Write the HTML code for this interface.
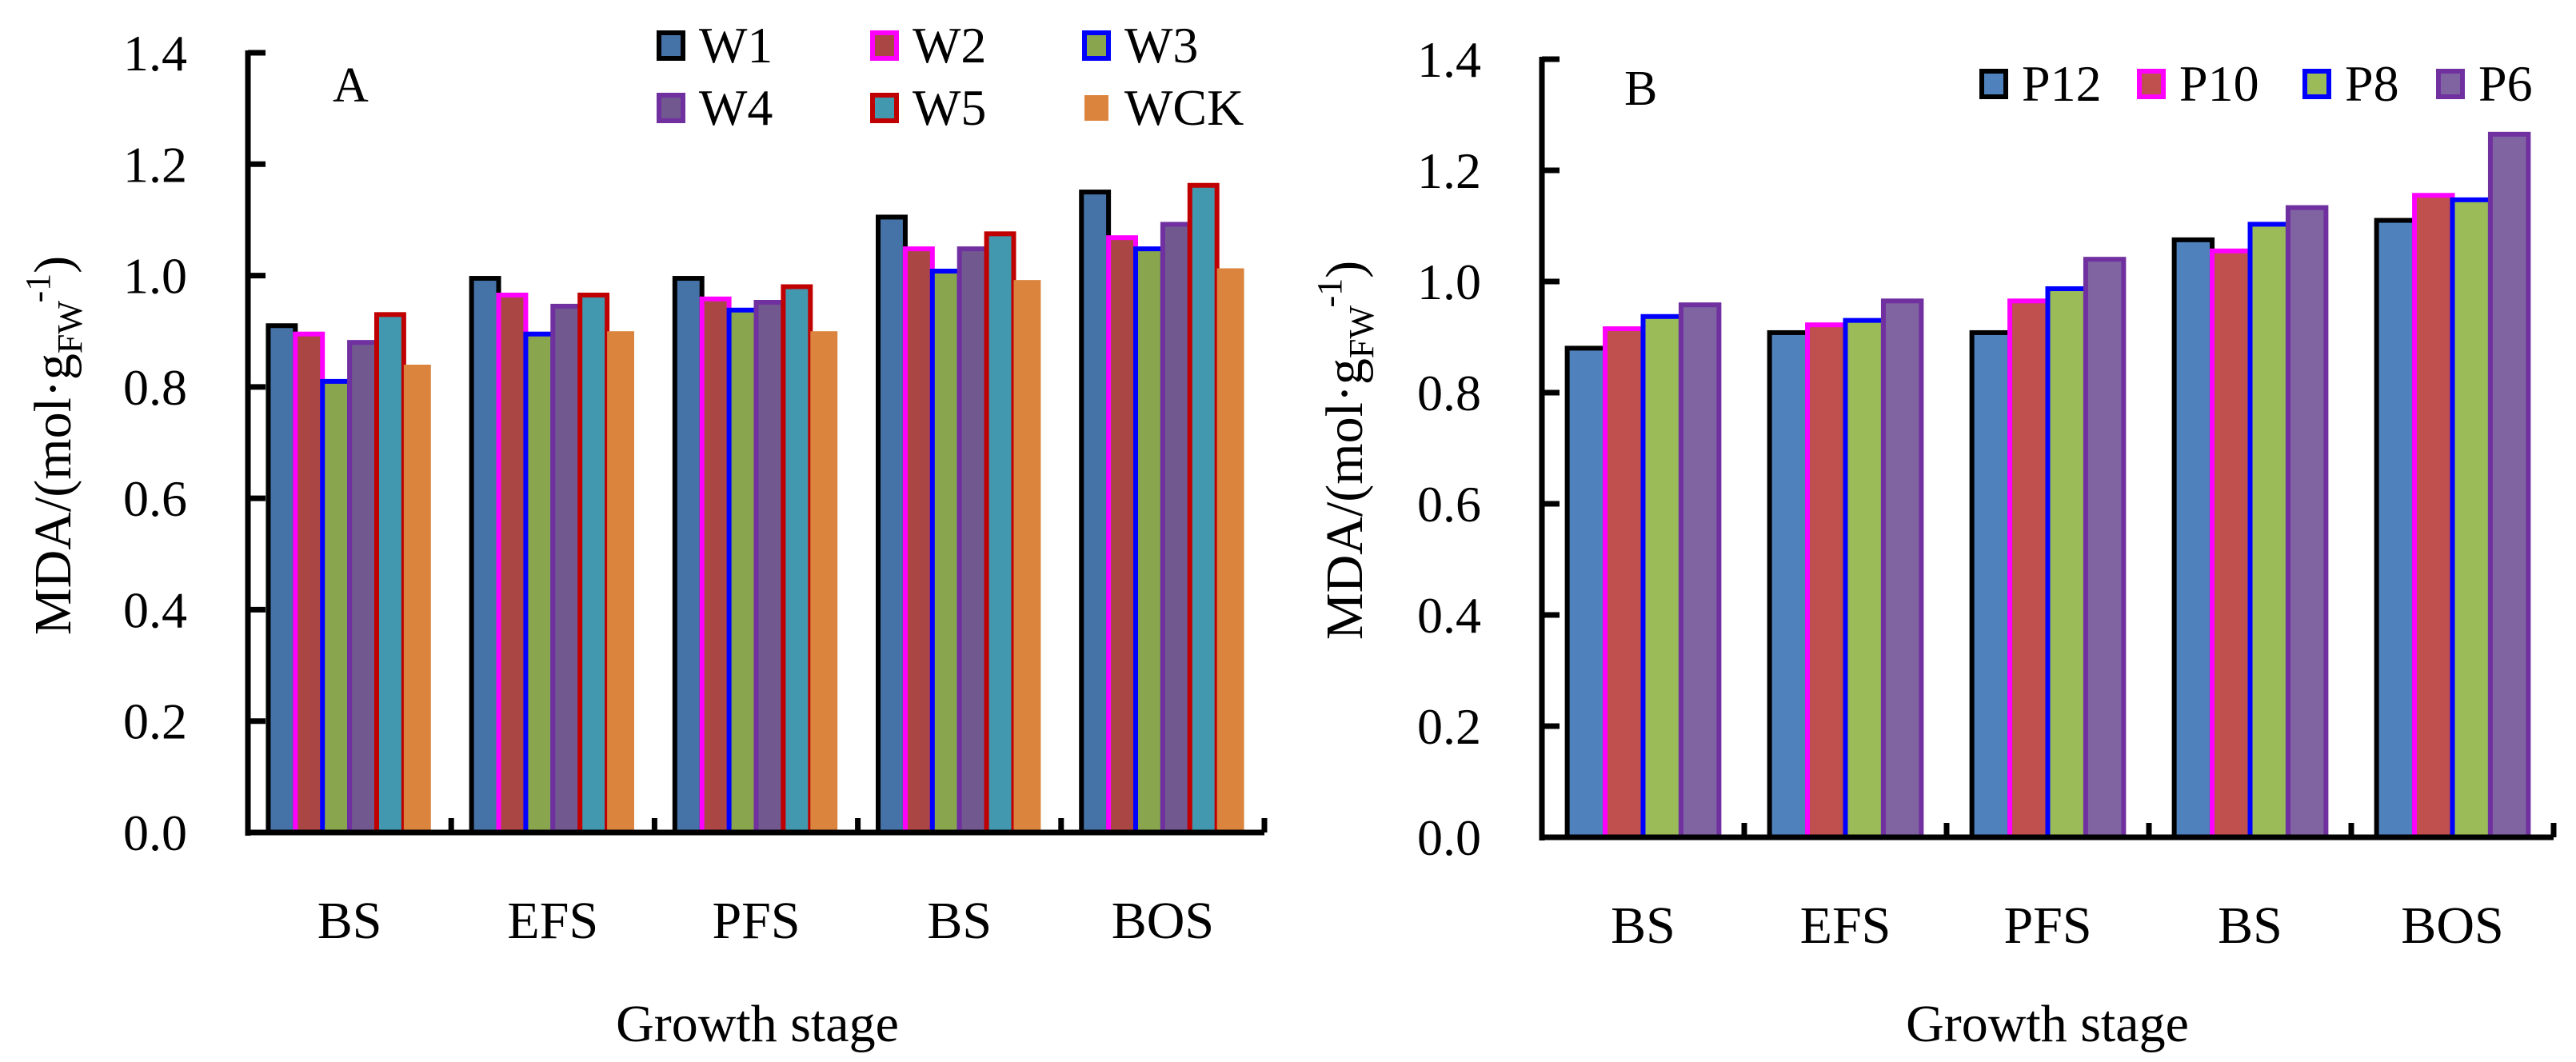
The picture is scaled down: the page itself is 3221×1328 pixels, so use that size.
<!DOCTYPE html>
<html><head><meta charset="utf-8"><style>
html,body{margin:0;padding:0;background:#fff;}
svg{display:block;font-family:"Liberation Serif",serif;}
svg text{font-family:"Liberation Serif",serif;}
</style></head><body>
<svg id="chart" width="3221" height="1328" viewBox="0 0 3221 1328" xmlns="http://www.w3.org/2000/svg" font-family="Liberation Serif, serif"></svg>
<script>
const categories = ["BS","EFS","PFS","BS","BOS"];
const yTicks = ["0.0","0.2","0.4","0.6","0.8","1.0","1.2","1.4"];
const seriesA = ["W1","W2","W3","W4","W5","WCK"];
const w1 = [0.91,0.995,0.995,1.105,1.15];
const w2 = [0.895,0.965,0.958,1.048,1.068];
const w3 = [0.81,0.895,0.938,1.008,1.048];
const w4 = [0.88,0.945,0.952,1.048,1.092];
const w5 = [0.93,0.965,0.98,1.075,1.162];
const wck = [0.84,0.90,0.90,0.992,1.013];
const seriesB = ["P12","P10","P8","P6"];
const p12 = [0.88,0.908,0.908,1.075,1.11];
const p10 = [0.915,0.922,0.965,1.055,1.155];
const p8 = [0.937,0.93,0.987,1.103,1.147];
const p6 = [0.958,0.965,1.04,1.133,1.265];

const NS="http://www.w3.org/2000/svg";
const svg=document.getElementById('chart');
const FF='Liberation Serif, serif';
function mk(tag,attrs,parent){const e=document.createElementNS(NS,tag);for(const k in attrs)e.setAttribute(k,attrs[k]);if(tag==='text')e.setAttribute('font-family',FF);(parent||svg).appendChild(e);return e;}

function panel(cfg){
  const g=mk('g',{});
  
  
  const {x0,x1,y0,yTop,vals,names,fills,strokes,barFrac}=cfg;
  const ymax=1.4;
  const yS=v=>y0-(v/ymax)*(y0-yTop);
  const gw=(x1-x0)/categories.length;
  const n=vals.length, bw=gw*barFrac/n;
  for(let c=0;c<categories.length;c++){
    const gx=x0+gw*c+gw*(1-barFrac)/2;
    for(let s=0;s<n;s++){
      const v=vals[s][c];
      const r=mk('rect',{x:gx+s*bw,y:yS(v),width:bw,height:y0-yS(v),fill:fills[s],stroke:strokes[s]||'none','stroke-width':strokes[s]?6:0},g);
      
      
    }
  }
  const ya=mk('line',{x1:x0,y1:yTop-3,x2:x0,y2:y0+4,stroke:'#000','stroke-width':7},g);
  
  
  const xa=mk('line',{x1:x0-3,y1:y0,x2:x1,y2:y0,stroke:'#000','stroke-width':7},g);
  
  
  yTicks.forEach((t,i)=>{
    const v=parseFloat(t), y=yS(v);
    mk('line',{x1:x0,y1:y,x2:x0+22,y2:y,stroke:'#000','stroke-width':7},g);
    const tx=mk('text',{x:x0-76,y:y+22,'font-size':64,'text-anchor':'end'},g);
    tx.textContent=t;
    
    
  });
  for(let c=1;c<=categories.length;c++){
    const x=x0+gw*c;
    mk('line',{x1:x,y1:y0,x2:x,y2:y0-18,stroke:'#000','stroke-width':7},g);
  }
  categories.forEach((cat,c)=>{
    const tx=mk('text',{x:x0+gw*(c+0.5),y:y0+132,'font-size':66,'text-anchor':'middle'},g);
    tx.textContent=cat;
    
    
  });
  const xt=mk('text',{x:cfg.xTitleX,y:1302,'font-size':66,'text-anchor':'middle'},g);
  xt.textContent='Growth stage';
  
  
  const yt=mk('text',{x:0,y:0,'font-size':66,'text-anchor':'middle',transform:`translate(${cfg.yTitleX},${cfg.yTitleY}) rotate(-90)`},g);
  
  
  yt.innerHTML='MDA/(mol·g<tspan font-size="44" dy="14">FW</tspan><tspan font-size="44" dy="-40">-1</tspan><tspan dy="26">)</tspan>';
  const pl=mk('text',{x:cfg.labelX,y:cfg.labelY,'font-size':62},g);
  pl.textContent=cfg.label;
  
  
  cfg.legend.forEach((p,i)=>{
    const lg=mk('g',{},g);
    
    
    mk('rect',{x:p[0],y:p[1]-17,width:30,height:32,fill:fills[i],stroke:strokes[i]||'none','stroke-width':strokes[i]?6:0},lg);
    const t=mk('text',{x:p[0]+50,y:p[1]+20,'font-size':64},lg);
    t.textContent=names[i];
  });
}

panel({name:'panel-a',x0:310,x1:1581,y0:1041,yTop:66,barFrac:0.8,
  vals:[w1,w2,w3,w4,w5,wck],names:seriesA,
  fills:['#4572A7','#AA4643','#89A54E','#71588F','#4198AF','#DB843D'],
  strokes:['#000','#FF00FF','#0000FF','#7030A0','#C00000',null],
  xTitleX:947,yTitleX:88,yTitleY:557,label:'A',labelX:416,labelY:127,
  legend:[[824,58],[1091,58],[1356,58],[824,136],[1091,136],[1356,136]]});
panel({name:'panel-b',x0:1928,x1:3193,y0:1047,yTop:74,barFrac:0.75,
  vals:[p12,p10,p8,p6],names:seriesB,
  fills:['#4F81BD','#C0504D','#9BBB59','#8064A2'],
  strokes:['#000','#FF00FF','#0000FF','#7030A0'],
  xTitleX:2560,yTitleX:1703,yTitleY:563,label:'B',labelX:2031,labelY:131,
  legend:[[2478,106],[2675,106],[2882,106],[3049,106]]});
</script>
</body></html>
